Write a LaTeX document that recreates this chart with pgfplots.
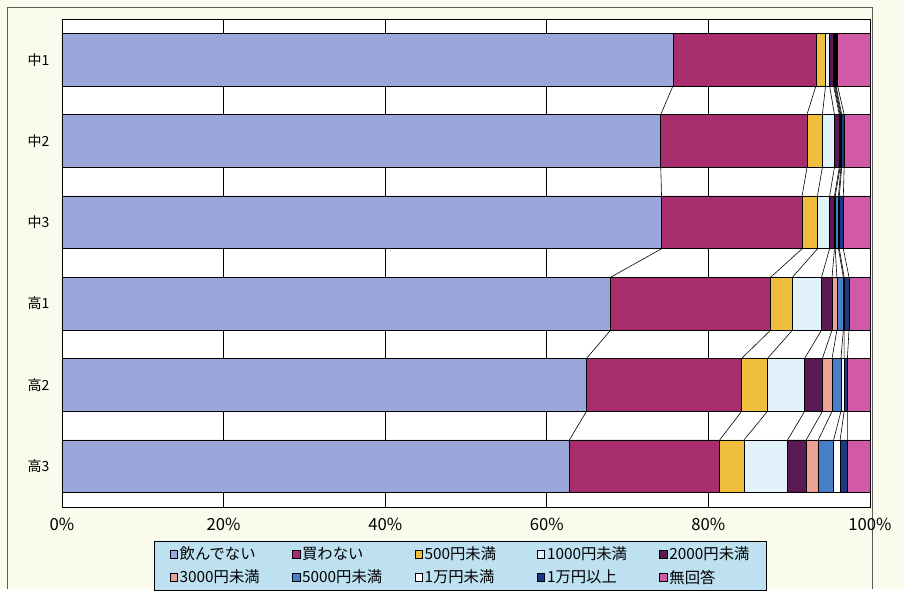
\documentclass[border=0pt]{standalone}
\usepackage{fontspec}
\setmainfont{Noto Sans CJK JP}
\usepackage{pgfplots}
\pgfplotsset{compat=1.18}
\usepackage{pgfplotstable}

\definecolor{cS1}{RGB}{155,166,218}
\definecolor{cS2}{RGB}{168,45,108}
\definecolor{cS3}{RGB}{238,190,60}
\definecolor{cS4}{RGB}{226,242,250}
\definecolor{cS5}{RGB}{90,25,80}
\definecolor{cS6}{RGB}{236,160,150}
\definecolor{cS7}{RGB}{72,126,200}
\definecolor{cS8}{RGB}{255,255,255}
\definecolor{cS9}{RGB}{30,55,130}
\definecolor{cS10}{RGB}{210,88,168}
\definecolor{cream}{RGB}{250,251,236}
\definecolor{legbg}{RGB}{190,225,242}
\definecolor{frame}{RGB}{90,90,90}

% category positions: 0 = 中1 ... 5 = 高3
\pgfplotstableread{
y  s1   s2   s3  s4  s5  s6  s7  s8  s9  s10
0  75.6 17.7 1.2 0.5 0.5 0.1 0.1 0.1 0.2 4.0
1  74.1 18.1 1.9 1.5 0.6 0.1 0.1 0.1 0.3 3.2
2  74.2 17.4 1.9 1.5 0.6 0.1 0.4 0.1 0.5 3.3
3  67.9 19.8 2.7 3.6 1.3 0.6 0.8 0.1 0.6 2.6
4  64.9 19.2 3.2 4.6 2.2 1.2 1.1 0.4 0.4 2.8
5  62.8 18.6 3.0 5.4 2.3 1.5 1.9 0.8 0.9 2.8
}\bardata

\pgfplotsset{
  base/.style={
    at={(46.5pt,61.5pt)}, anchor=south west,
    width=606pt, height=366pt, scale only axis,
    xmin=0, xmax=100, ymin=-0.5, ymax=5.5, y dir=reverse,
  },
}

\begin{document}
\begin{tikzpicture}
\fill[cream] (0,0) rectangle (678pt,441.75pt);
\draw[frame, line width=0.6pt] (5.25pt,0) -- (5.25pt,436.5pt) -- (654pt,436.5pt) -- (654pt,0);
\fill[white] (46.5pt,61.5pt) rectangle ++(606pt,366pt);

% series lines (drawn beneath the bars)
\begin{axis}[base, hide axis, stack plots=x]
\addplot[black, line width=0.45pt, no markers] coordinates {(75.6,0.325) (74.1,0.675) (74.1,1.325) (74.2,1.675) (74.2,2.325) (67.9,2.675) (67.9,3.325) (64.9,3.675) (64.9,4.325) (62.8,4.675)};
\addplot[black, line width=0.45pt, no markers] coordinates {(17.7,0.325) (18.1,0.675) (18.1,1.325) (17.4,1.675) (17.4,2.325) (19.8,2.675) (19.8,3.325) (19.2,3.675) (19.2,4.325) (18.6,4.675)};
\addplot[black, line width=0.45pt, no markers] coordinates {(1.2,0.325) (1.9,0.675) (1.9,1.325) (1.9,1.675) (1.9,2.325) (2.7,2.675) (2.7,3.325) (3.2,3.675) (3.2,4.325) (3.0,4.675)};
\addplot[black, line width=0.45pt, no markers] coordinates {(0.5,0.325) (1.5,0.675) (1.5,1.325) (1.5,1.675) (1.5,2.325) (3.6,2.675) (3.6,3.325) (4.6,3.675) (4.6,4.325) (5.4,4.675)};
\addplot[black, line width=0.45pt, no markers] coordinates {(0.5,0.325) (0.6,0.675) (0.6,1.325) (0.6,1.675) (0.6,2.325) (1.3,2.675) (1.3,3.325) (2.2,3.675) (2.2,4.325) (2.3,4.675)};
\addplot[black, line width=0.45pt, no markers] coordinates {(0.1,0.325) (0.1,0.675) (0.1,1.325) (0.1,1.675) (0.1,2.325) (0.6,2.675) (0.6,3.325) (1.2,3.675) (1.2,4.325) (1.5,4.675)};
\addplot[black, line width=0.45pt, no markers] coordinates {(0.1,0.325) (0.1,0.675) (0.1,1.325) (0.4,1.675) (0.4,2.325) (0.8,2.675) (0.8,3.325) (1.1,3.675) (1.1,4.325) (1.9,4.675)};
\addplot[black, line width=0.45pt, no markers] coordinates {(0.1,0.325) (0.1,0.675) (0.1,1.325) (0.1,1.675) (0.1,2.325) (0.1,2.675) (0.1,3.325) (0.4,3.675) (0.4,4.325) (0.8,4.675)};
\addplot[black, line width=0.45pt, no markers] coordinates {(0.2,0.325) (0.3,0.675) (0.3,1.325) (0.5,1.675) (0.5,2.325) (0.6,2.675) (0.6,3.325) (0.4,3.675) (0.4,4.325) (0.9,4.675)};
\end{axis}

% bars
\begin{axis}[base,
  xbar stacked, bar width=0.65,
  axis line style={black, line width=0.6pt},
  xtick={0,20,40,60,80,100},
  xticklabel={\pgfmathprintnumber{\tick}\%},
  /pgf/number format/assume math mode=true,
  xticklabel style={font=\fontsize{12.5}{14}\selectfont, yshift=-5pt},
  ytick={0,1,2,3,4,5},
  yticklabels={中1,中2,中3,高1,高2,高3},
  yticklabel style={font=\fontsize{10.5}{12}\selectfont, xshift=-6pt},
  major tick length=0pt,
  xmajorgrids, grid style={black, line width=0.5pt},
  every axis plot/.append style={draw=black, line width=0.5pt},
  legend columns=5,
  legend image code/.code={%
    \path[draw=none, fill=none] (-12pt,0pt) -- (0pt,0pt);
    \draw[#1, draw=black, line width=0.45pt] (0pt,-2.8pt) rectangle (5.6pt,2.8pt);},
  legend style={at={(axis description cs:0.4926,-0.121)}, anchor=center,
    fill=legbg, draw=black, line width=0.6pt, inner xsep=0pt, inner ysep=2pt,
    row sep=2pt,
    nodes={font=\fontsize{11.5}{13}\selectfont, text width=71pt, align=left, inner xsep=1.5pt, inner ysep=2pt}},
  legend cell align=left,
]
\addplot[fill=cS1]  table[x=s1, y=y]{\bardata}; \addlegendentry{飲んでない}
\addplot[fill=cS2]  table[x=s2, y=y]{\bardata}; \addlegendentry{買わない}
\addplot[fill=cS3]  table[x=s3, y=y]{\bardata}; \addlegendentry{500円未満}
\addplot[fill=cS4]  table[x=s4, y=y]{\bardata}; \addlegendentry{1000円未満}
\addplot[fill=cS5]  table[x=s5, y=y]{\bardata}; \addlegendentry{2000円未満}
\addplot[fill=cS6]  table[x=s6, y=y]{\bardata}; \addlegendentry{3000円未満}
\addplot[fill=cS7]  table[x=s7, y=y]{\bardata}; \addlegendentry{5000円未満}
\addplot[fill=cS8]  table[x=s8, y=y]{\bardata}; \addlegendentry{1万円未満}
\addplot[fill=cS9]  table[x=s9, y=y]{\bardata}; \addlegendentry{1万円以上}
\addplot[fill=cS10] table[x=s10, y=y]{\bardata}; \addlegendentry{無回答}
\end{axis}
\end{tikzpicture}
\end{document}
